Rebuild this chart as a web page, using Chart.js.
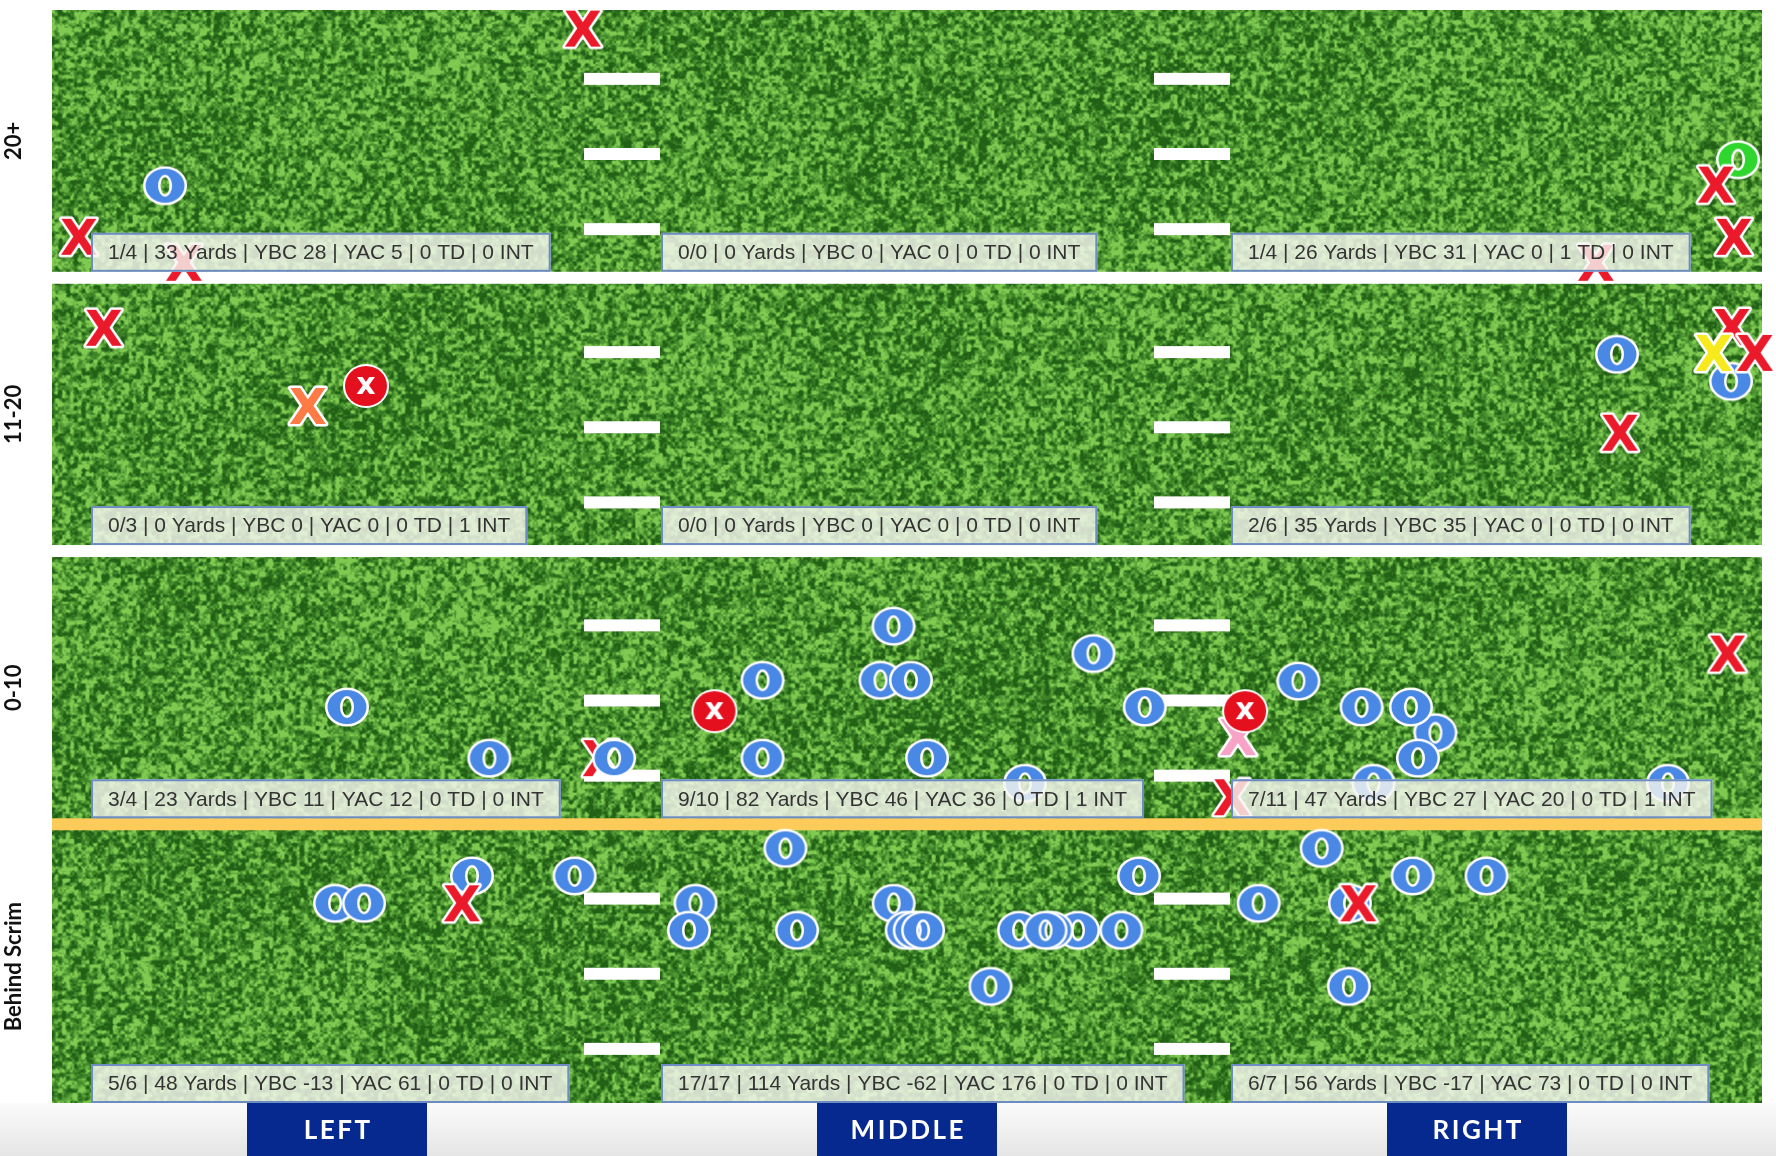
<!DOCTYPE html>
<html>
<head>
<meta charset="utf-8">
<script src="https://cdn.jsdelivr.net/npm/chart.js@4.4.1/dist/chart.umd.min.js"></script>
<style>
html,body{margin:0;padding:0;background:#fff;}
#wrap{width:1776px;height:1156px;position:relative;}
</style>
</head>
<body>
<div id="wrap"><canvas id="c"></canvas></div>
<script>
// ---------- DATA ----------
const bandLabels = ['20+', '11-20', '0-10', 'Behind Scrim'];
const bandTops = [29.8, 20, 10, 0];
const bandBottoms = [20, 10, 0, -10.2];
const columnLabels = ['LEFT', 'MIDDLE', 'RIGHT'];
const columnBounds = [0, 100 / 3, 200 / 3, 100];

// per cell, rows = bands (20+, 11-20, 0-10, Behind Scrim), cols = LEFT, MIDDLE, RIGHT
const completions = [1, 0, 1, 0, 0, 2, 3, 9, 7, 5, 17, 6];
const attempts    = [4, 0, 4, 3, 0, 6, 4, 10, 11, 6, 17, 7];
const yards       = [33, 0, 26, 0, 0, 35, 23, 82, 47, 48, 114, 56];
const ybc         = [28, 0, 31, 0, 0, 35, 11, 46, 27, -13, -62, -17];
const yac         = [5, 0, 0, 0, 0, 0, 12, 36, 20, 61, 176, 73];
const tds         = [0, 0, 1, 0, 0, 0, 0, 0, 0, 0, 0, 0];
const ints        = [0, 0, 0, 1, 0, 0, 0, 1, 1, 0, 0, 0];

// passes (x = across field 0..100, y = yards downfield band scale)
const passX = [
  31.05, 6.61, 1.58, 7.72, 98.6, 97.31, 98.36, 90.29,
  3.04, 14.97, 18.36, 91.52, 98.19, 91.7, 98.25, 97.19, 99.6,
  17.25, 25.58, 32.1, 32.87, 38.74, 41.55, 41.55, 49.21, 48.45, 50.23, 51.17, 60.9, 63.9, 56.9,
  69.36, 69.77, 69.0, 72.89, 76.58, 80.9, 79.47, 79.88, 77.28, 94.5, 97.99,
  16.55, 18.25, 24.56, 23.98, 30.56,
  42.89, 37.63, 37.25, 43.57, 49.22, 49.98, 50.45, 50.94, 56.55, 60.0, 58.45, 58.1, 62.54, 63.57, 54.88,
  74.25, 70.56, 79.57, 83.89, 75.84, 75.9, 76.4
];
const passY = [
  29.12, 23.37, 21.5, 20.55, 24.32, 23.41, 21.5, 20.55,
  18.17, 15.31, 16.04, 17.2, 16.21, 14.33, 18.2, 17.25, 17.25,
  4.29, 2.42, 2.42, 2.42, 4.14, 5.27, 2.42, 7.25, 5.27, 5.27, 2.42, 6.25, 4.29, 1.5,
  3.19, 4.14, 0.99, 5.24, 4.29, 3.35, 4.29, 2.42, 1.5, 1.5, 6.25,
  -2.89, -2.89, -1.89, -2.89, -1.89,
  -0.88, -2.89, -3.88, -3.88, -2.89, -3.88, -3.88, -3.88, -3.88, -3.88, -3.88, -3.88, -3.88, -1.89, -5.93,
  -0.88, -2.89, -1.89, -1.89, -5.93, -2.89, -2.89
];
const passType = [
  'inc', 'comp', 'inc', 'inc', 'td', 'inc', 'inc', 'inc',
  'inc', 'orange', 'int', 'comp', 'comp', 'inc', 'inc', 'yellow', 'inc',
  'comp', 'comp', 'inc', 'comp', 'int', 'comp', 'comp', 'comp', 'comp', 'comp', 'comp', 'comp', 'comp', 'comp',
  'pink', 'int', 'inc', 'comp', 'comp', 'comp', 'comp', 'comp', 'comp', 'comp', 'inc',
  'comp', 'comp', 'comp', 'inc', 'comp',
  'comp', 'comp', 'comp', 'comp', 'comp', 'comp', 'comp', 'comp', 'comp', 'comp', 'comp', 'comp', 'comp', 'comp', 'comp',
  'comp', 'comp', 'comp', 'comp', 'comp', 'comp', 'inc'
];

// ---------- MARKERS ----------
function makeO(color) {
  const w = 52, h = 46, c = document.createElement('canvas');
  c.width = w; c.height = h;
  const g = c.getContext('2d'), cx = w / 2, cy = h / 2;
  g.beginPath();
  g.ellipse(cx, cy, 19.5, 17, 0, 0, Math.PI * 2);
  g.moveTo(cx + 7, cy);
  g.ellipse(cx, cy, 7, 11, 0, 0, Math.PI * 2, true);
  g.lineWidth = 5;
  g.strokeStyle = '#ffffff';
  g.stroke();
  g.fillStyle = color;
  g.fill('evenodd');
  return c;
}
function makeX(color) {
  const w = 52, h = 48, c = document.createElement('canvas');
  c.width = w; c.height = h;
  const g = c.getContext('2d');
  const size = 49, cap = size * 0.729;
  g.font = 'bold ' + size + 'px "DejaVu Sans"';
  g.textAlign = 'center';
  g.textBaseline = 'alphabetic';
  g.lineJoin = 'round';
  g.lineWidth = 5;
  g.strokeStyle = '#ffffff';
  g.strokeText('X', w / 2, h / 2 + cap / 2);
  g.fillStyle = color;
  g.fillText('X', w / 2, h / 2 + cap / 2);
  return c;
}
function makeInt() {
  const w = 50, h = 48, c = document.createElement('canvas');
  c.width = w; c.height = h;
  const g = c.getContext('2d'), cx = w / 2, cy = h / 2;
  g.fillStyle = '#ffffff';
  g.beginPath(); g.ellipse(cx, cy, 23, 22, 0, 0, Math.PI * 2); g.fill();
  g.fillStyle = '#e5101d';
  g.beginPath(); g.ellipse(cx, cy, 21, 20, 0, 0, Math.PI * 2); g.fill();
  g.font = 'bold 30px "DejaVu Sans"';
  g.textAlign = 'center';
  g.textBaseline = 'alphabetic';
  g.fillStyle = '#ffffff';
  g.fillText('x', cx, cy + 8);
  return c;
}
const markers = {
  comp: makeO('#4a88e6'),
  td: makeO('#2ed62e'),
  inc: makeX('#ea1a2a'),
  orange: makeX('#ff7a45'),
  yellow: makeX('#f6ea1c'),
  pink: makeX('#f6a3c6'),
  int: makeInt()
};

// ---------- GRASS TEXTURE (decoration) ----------
let grassCanvas = null;
function makeGrass(W, H) {
  const c = document.createElement('canvas');
  c.width = W; c.height = H;
  const g = c.getContext('2d');
  const img = g.createImageData(W, H), d = img.data;
  let s = 987654321;
  const rnd = () => { s |= 0; s = s + 0x6D2B79F5 | 0; let t = Math.imul(s ^ s >>> 15, 1 | s); t = t + Math.imul(t ^ t >>> 7, 61 | t) ^ t; return ((t ^ t >>> 14) >>> 0) / 4294967296; };
  function grid(cell) {
    const gw = Math.ceil(W / cell) + 2, gh = Math.ceil(H / cell) + 2;
    const a = new Float32Array(gw * gh);
    for (let i = 0; i < a.length; i++) a[i] = rnd();
    return { a, gw, cell };
  }
  function sample(G, x, y) {
    const fx = x / G.cell, fy = y / G.cell, ix = fx | 0, iy = fy | 0;
    let tx = fx - ix, ty = fy - iy;
    tx = tx * tx * (3 - 2 * tx); ty = ty * ty * (3 - 2 * ty);
    const a = G.a, i = iy * G.gw + ix;
    const v0 = a[i] + (a[i + 1] - a[i]) * tx;
    const v1 = a[i + G.gw] + (a[i + G.gw + 1] - a[i + G.gw]) * tx;
    return v0 + (v1 - v0) * ty;
  }
  const g1 = grid(3.9), g2 = grid(2.1), g3 = grid(140);
  const dark = [34, 96, 22], mid = [72, 144, 46], light = [128, 202, 82];
  let p = 0;
  for (let y = 0; y < H; y++) {
    for (let x = 0; x < W; x++) {
      let v = 0.62 * sample(g1, x, y) + 0.28 * sample(g2, x, y) + 0.1 * sample(g3, x, y);
      let t = (v - 0.5) * 2.3 + 0.5;
      if (t < 0) t = 0; if (t > 1) t = 1;
      let r, gg, b;
      if (t < 0.5) {
        const k = t / 0.5;
        r = dark[0] + (mid[0] - dark[0]) * k; gg = dark[1] + (mid[1] - dark[1]) * k; b = dark[2] + (mid[2] - dark[2]) * k;
      } else {
        const k = (t - 0.5) / 0.5;
        r = mid[0] + (light[0] - mid[0]) * k; gg = mid[1] + (light[1] - mid[1]) * k; b = mid[2] + (light[2] - mid[2]) * k;
      }
      d[p++] = r; d[p++] = gg; d[p++] = b; d[p++] = 255;
    }
  }
  g.putImageData(img, 0, 0);
  return c;
}

// ---------- PLUGIN ----------
const hashOffsets = [1.78, 4.53, 7.28];
const fieldPlugin = {
  id: 'field',
  beforeDraw(chart) {
    const { ctx, chartArea: a, scales: { x, y } } = chart;
    ctx.save();
    // bottom strip
    const grd = ctx.createLinearGradient(0, a.bottom, 0, chart.height);
    grd.addColorStop(0, '#fbfbfb'); grd.addColorStop(1, '#e5e5e5');
    ctx.fillStyle = grd;
    ctx.fillRect(0, a.bottom, chart.width, chart.height - a.bottom);
    // grass
    const W = Math.round(a.width), H = Math.round(a.height);
    if (!grassCanvas || grassCanvas.width !== W || grassCanvas.height !== H) grassCanvas = makeGrass(W, H);
    ctx.drawImage(grassCanvas, a.left, a.top, a.width, a.height);
    // band separators
    for (let r = 0; r < bandBottoms.length - 1; r++) {
      const py = y.getPixelForValue(bandBottoms[r]);
      ctx.fillStyle = bandBottoms[r] === 0 ? '#fccb5a' : '#ffffff';
      ctx.fillRect(a.left, py - 6, a.width, 12);
    }
    // hash marks between columns
    ctx.fillStyle = '#ffffff';
    for (let r = 0; r < bandBottoms.length; r++) {
      for (let c = 1; c < columnBounds.length - 1; c++) {
        const cx = x.getPixelForValue(columnBounds[c]);
        hashOffsets.forEach(o => {
          const py = y.getPixelForValue(bandBottoms[r] + (r === 3 ? 0.2 : 0) + o);
          ctx.fillRect(cx - 38, py - 6, 76, 12);
        });
      }
    }
    // band labels
    ctx.fillStyle = '#111111';
    ctx.font = 'bold 22px Lato';
    ctx.textAlign = 'center';
    ctx.textBaseline = 'middle';
    bandLabels.forEach((lab, r) => {
      const gTop = r === 0 ? a.top : y.getPixelForValue(bandTops[r]) + 6;
      const gBot = r === 3 ? a.bottom : y.getPixelForValue(bandBottoms[r]) - 6;
      ctx.save();
      ctx.translate(14, (gTop + gBot) / 2);
      ctx.rotate(-Math.PI / 2);
      ctx.fillText(lab, 0, 0);
      ctx.restore();
    });
    // column labels
    ctx.font = 'bold 26px Lato';
    try { ctx.letterSpacing = '2.5px'; } catch (e) {}
    columnLabels.forEach((lab, c) => {
      const cx = x.getPixelForValue((columnBounds[c] + columnBounds[c + 1]) / 2);
      ctx.fillStyle = '#05298f';
      ctx.fillRect(cx - 90, a.bottom, 180, chart.height - a.bottom);
      ctx.fillStyle = '#ffffff';
      ctx.fillText(lab, cx + 1.25, a.bottom + (chart.height - a.bottom) / 2 + 1);
    });
    try { ctx.letterSpacing = '0px'; } catch (e) {}
    ctx.restore();
  },
  afterDatasetsDraw(chart) {
    const { ctx, chartArea: a, scales: { x, y } } = chart;
    ctx.save();
    ctx.font = '21px "Liberation Sans"';
    ctx.textBaseline = 'middle';
    ctx.textAlign = 'left';
    for (let r = 0; r < 4; r++) {
      for (let c = 0; c < 3; c++) {
        const i = r * 3 + c;
        const txt = completions[i] + '/' + attempts[i] + ' | ' + yards[i] + ' Yards | YBC ' + ybc[i] +
          ' | YAC ' + yac[i] + ' | ' + tds[i] + ' TD | ' + ints[i] + ' INT';
        const bx = x.getPixelForValue(columnBounds[c]) + 39;
        const bottom = r === 3 ? a.bottom : y.getPixelForValue(bandBottoms[r]) - 6;
        const h = 39, w = ctx.measureText(txt).width + 34;
        ctx.fillStyle = 'rgba(246,247,240,0.82)';
        ctx.fillRect(bx, bottom - h, w, h);
        ctx.strokeStyle = '#6d8dc2';
        ctx.lineWidth = 2;
        ctx.strokeRect(bx + 1, bottom - h + 1, w - 2, h - 2);
        ctx.fillStyle = '#333333';
        ctx.fillText(txt, bx + 17, bottom - h / 2 + 1);
      }
    }
    ctx.restore();
  }
};

new Chart(document.getElementById('c'), {
  type: 'scatter',
  data: {
    datasets: [{
      label: 'Passes',
      data: passX.map((v, i) => ({ x: v, y: passY[i] })),
      pointStyle: (ctx) => markers[passType[ctx.dataIndex]] || markers.comp,
      pointRadius: 20,
      pointHoverRadius: 20,
      clip: false
    }]
  },
  options: {
    responsive: true,
    maintainAspectRatio: false,
    animation: false,
    events: [],
    layout: { autoPadding: false, padding: { left: 52, right: 14, top: 10, bottom: 53 } },
    plugins: { legend: { display: false }, tooltip: { enabled: false } },
    scales: {
      x: { type: 'linear', min: 0, max: 100, display: false },
      y: { type: 'linear', min: -10.2, max: 29.8, display: false }
    }
  },
  plugins: [fieldPlugin]
});
</script>
</body>
</html>
